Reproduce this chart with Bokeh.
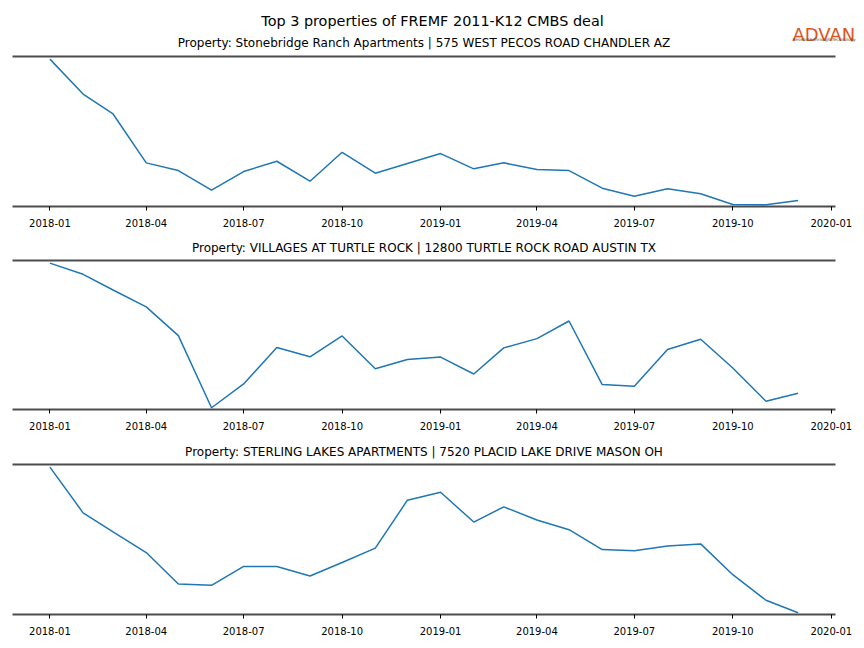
import pandas as pd
from bokeh.plotting import figure
from bokeh.models import (Range1d, FixedTicker, DatetimeTickFormatter, LinearAxis,
                          ColumnDataSource)
from bokeh.core.properties import value
from bokeh.layouts import column
from bokeh.embed import file_html
from bokeh.resources import INLINE

SUPTITLE = "Top 3 properties of FREMF 2011-K12 CMBS deal"
LOGO = "ADVAN"
LOGO_TAG = "Research through Technology"

months = ["2018-01", "2018-02", "2018-03", "2018-04", "2018-05", "2018-06",
          "2018-07", "2018-08", "2018-09", "2018-10", "2018-11", "2018-12",
          "2019-01", "2019-02", "2019-03", "2019-04", "2019-05", "2019-06",
          "2019-07", "2019-08", "2019-09", "2019-10", "2019-11", "2019-12"]

titles = [
    "Property: Stonebridge Ranch Apartments | 575 WEST PECOS ROAD CHANDLER AZ",
    "Property: VILLAGES AT TURTLE ROCK | 12800 TURTLE ROCK ROAD AUSTIN TX",
    "Property: STERLING LAKES APARTMENTS | 7520 PLACID LAKE DRIVE MASON OH",
]

stonebridge = [147.4, 112.4, 92.4, 43.4, 35.7, 16.0, 34.7, 45.0, 25.0, 54.0, 33.0, 42.7,
               52.7, 37.4, 43.4, 36.7, 35.7, 18.0, 10.0, 17.4, 12.4, 1.7, 1.4, 5.7]
turtle_rock = [148.0, 136.7, 120.9, 104.0, 75.0, 2.4, 26.4, 63.0, 53.7, 74.7, 41.7, 51.0,
               53.4, 36.4, 62.7, 72.0, 89.7, 25.7, 24.0, 61.0, 71.4, 42.4, 9.0, 17.0]
sterling = [147.3, 101.3, 82.2, 61.3, 29.7, 28.3, 47.3, 47.3, 37.7, 51.3, 65.7, 114.0,
            122.0, 92.0, 107.3, 94.0, 84.3, 64.3, 63.0, 68.0, 70.0, 39.0, 13.3, 0.7]
series = [stonebridge, turtle_rock, sterling]

tick_labels = ["2018-01", "2018-04", "2018-07", "2018-10", "2019-01",
               "2019-04", "2019-07", "2019-10", "2020-01"]

dates = pd.to_datetime(months)
span = dates[-1] - dates[0]
x_range = Range1d(dates[0] - 0.05 * span, dates[-1] + 0.05 * span)
tick_ms = [pd.Timestamp(t).timestamp() * 1000 for t in tick_labels]

SPINE = "#4d4d4d"
FONT = "DejaVu Sans"
fmt = "%Y-%m"
W = 864
LEFT, RIGHT = 12, 29
HEADER_H = 50

# ---- header: suptitle, logo and first panel title ----
hdr = figure(width=W, height=HEADER_H, x_range=Range1d(0, W), y_range=Range1d(HEADER_H, 0),
             output_backend="svg", toolbar_location=None, x_axis_location=None,
             y_axis_location=None, min_border=0, min_border_left=0, min_border_right=0,
             min_border_top=0, min_border_bottom=0)
hdr.outline_line_color = None
hdr.xgrid.visible = False
hdr.ygrid.visible = False
hdr.text(x=[W / 2], y=[20], text=[SUPTITLE], text_font=value(FONT),
         text_font_size="14.4px", text_align="center", text_baseline="middle",
         text_color="black")
hdr.text(x=[LEFT + (W - LEFT - RIGHT) / 2], y=[42], text=[titles[0]], text_font=value(FONT),
         text_font_size="12px", text_align="center", text_baseline="middle",
         text_color="black")
hdr.text(x=[792], y=[34], text=[LOGO], text_font=value(FONT), text_font_size="18px",
         text_align="left", text_baseline="alphabetic", text_color="#E0531F")
hdr.text(x=[792], y=[38.5], text=[LOGO_TAG], text_font=value(FONT), text_font_size="4.3px",
         text_align="left", text_baseline="middle", text_color="#555555")

# (height, top border, bottom border)
layout_spec = [(183, 6, 27), (204, 26, 28), (211, 27, 34)]

figs = []
for i, (vals, (h, top, bottom)) in enumerate(zip(series, layout_spec)):
    vmin, vmax = min(vals), max(vals)
    sp = vmax - vmin
    kw = {}
    if i > 0:
        kw["title"] = titles[i]
    p = figure(width=W, height=h, x_axis_type="datetime", x_range=x_range,
               y_range=Range1d(vmin - 0.012 * sp, vmax + 0.018 * sp),
               output_backend="svg", toolbar_location=None, y_axis_location=None,
               min_border_left=LEFT, min_border_right=RIGHT,
               min_border_top=top, min_border_bottom=bottom, **kw)
    p.outline_line_color = None
    p.xgrid.visible = False
    p.ygrid.visible = False
    if i > 0:
        p.title.text_font = FONT
        p.title.text_font_size = "12px"
        p.title.text_font_style = "normal"
        p.title.text_color = "black"
        p.title.align = "center"
        p.title.standoff = 10.5

    ax = p.xaxis[0]
    ax.ticker = FixedTicker(ticks=tick_ms)
    ax.formatter = DatetimeTickFormatter(days=fmt, months=fmt, years=fmt, hours=fmt)
    ax.axis_line_width = 2
    ax.axis_line_color = SPINE
    ax.major_tick_out = 4
    ax.major_tick_in = 0
    ax.major_tick_line_color = "black"
    ax.minor_tick_line_color = None
    ax.major_label_text_font = FONT
    ax.major_label_text_font_size = "10px"
    ax.major_label_text_color = "black"
    ax.major_label_standoff = 8

    top_axis = LinearAxis(ticker=FixedTicker(ticks=[]), major_label_text_font_size="0px",
                          major_tick_line_color=None, minor_tick_line_color=None,
                          major_tick_out=0, minor_tick_out=0, major_label_standoff=0,
                          axis_line_width=2, axis_line_color=SPINE)
    p.add_layout(top_axis, "above")

    src = ColumnDataSource(data=dict(date=dates, value=vals))
    p.line(x="date", y="value", source=src, line_color="#1f77b4", line_width=1.5)
    figs.append(p)

layout = column(hdr, column(*figs, spacing=0), spacing=0)
open("out.html", "w").write(file_html(layout, INLINE))
